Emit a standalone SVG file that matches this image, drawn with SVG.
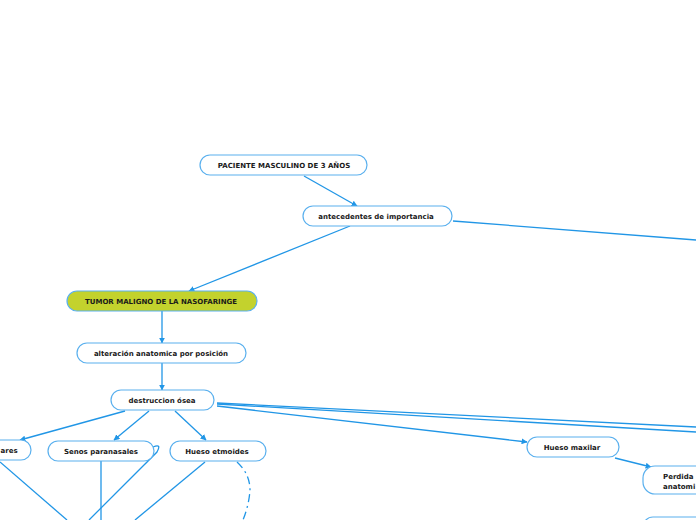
<svg xmlns="http://www.w3.org/2000/svg" width="696" height="520" viewBox="0 0 696 520">
<style>
.n rect{fill:#fff;stroke:#5ab0ee;stroke-width:1.2}
.n text{font-family:"DejaVu Sans",Verdana,sans-serif;font-weight:bold;font-size:7px;fill:#1a1a1a;text-anchor:middle}
#conn path{fill:none;stroke:#2196e6;stroke-width:1.3}
</style>
<defs>
<marker id="a" viewBox="0 0 10 10" refX="9" refY="5" markerWidth="6" markerHeight="6" orient="auto" markerUnits="userSpaceOnUse">
<path d="M0,0 L10,5 L0,10 z" fill="#2196e6"/>
</marker>
</defs>
<rect width="696" height="520" fill="#fff"/>
<g id="conn">
<path d="M304,176 L357,206" marker-end="url(#a)"/>
<path d="M453,221 L696,240"/>
<path d="M350,226 L189,291" marker-end="url(#a)"/>
<path d="M162,311 L162,343" marker-end="url(#a)"/>
<path d="M162,363 L162,390" marker-end="url(#a)"/>
<path d="M125,411 L20,440" marker-end="url(#a)"/>
<path d="M149,411 L114,440" marker-end="url(#a)"/>
<path d="M175,411 L206,440" marker-end="url(#a)"/>
<path d="M217,406 L527,442" marker-end="url(#a)"/>
<path d="M217,403 L696,427"/>
<path d="M217,404 L696,432"/>
<path d="M615,458 L651,467" marker-end="url(#a)"/>
<path d="M0,462 L67,520"/>
<path d="M101,461 L101,520"/>
<path d="M153,447 Q162,443 157,452 L89,520"/>
<path d="M205,462 L135,520"/>
<path d="M237,462 Q250,474 250,490 Q249,505 243,520" stroke-dasharray="8,4,2,4"/>
</g>
<g id="n1" class="n"><rect x="200" y="155" width="167" height="20" rx="10"/><text x="284" y="167.5">PACIENTE MASCULINO DE 3 AÑOS</text></g>
<g id="n2" class="n"><rect x="303" y="206" width="149" height="20" rx="10"/><text x="376" y="218.5">antecedentes de importancia</text></g>
<g id="n3" class="n"><rect x="67" y="291" width="190" height="20" rx="10" style="fill:#c3d22d"/><text x="161" y="303.5">TUMOR MALIGNO DE LA NASOFARINGE</text></g>
<g id="n4" class="n"><rect x="77" y="343" width="169" height="20" rx="10"/><text x="161" y="355.5">alteración anatomica por posición</text></g>
<g id="n5" class="n"><rect x="111" y="390" width="103" height="20" rx="10"/><text x="162" y="402.5">destruccion ósea</text></g>
<g id="n6" class="n"><rect x="-60" y="440" width="91" height="20" rx="10"/><text x="0.5" y="452.5" style="text-anchor:start">ares</text></g>
<g id="n7" class="n"><rect x="48" y="441" width="106" height="20" rx="10"/><text x="101" y="453.5">Senos paranasales</text></g>
<g id="n8" class="n"><rect x="170" y="441" width="96" height="20" rx="10"/><text x="217" y="454">Hueso etmoides</text></g>
<g id="n9" class="n"><rect x="527" y="437" width="92" height="20" rx="10"/><text x="572" y="449.5">Hueso maxilar</text></g>
<g id="n10" class="n"><rect x="643" y="466" width="80" height="28" rx="12"/><text x="663" y="478.5" style="text-anchor:start">Perdida</text><text x="663" y="488.5" style="text-anchor:start">anatomi</text></g>
<g id="n11" class="n"><rect x="643" y="517" width="80" height="20" rx="10"/></g>
</svg>
